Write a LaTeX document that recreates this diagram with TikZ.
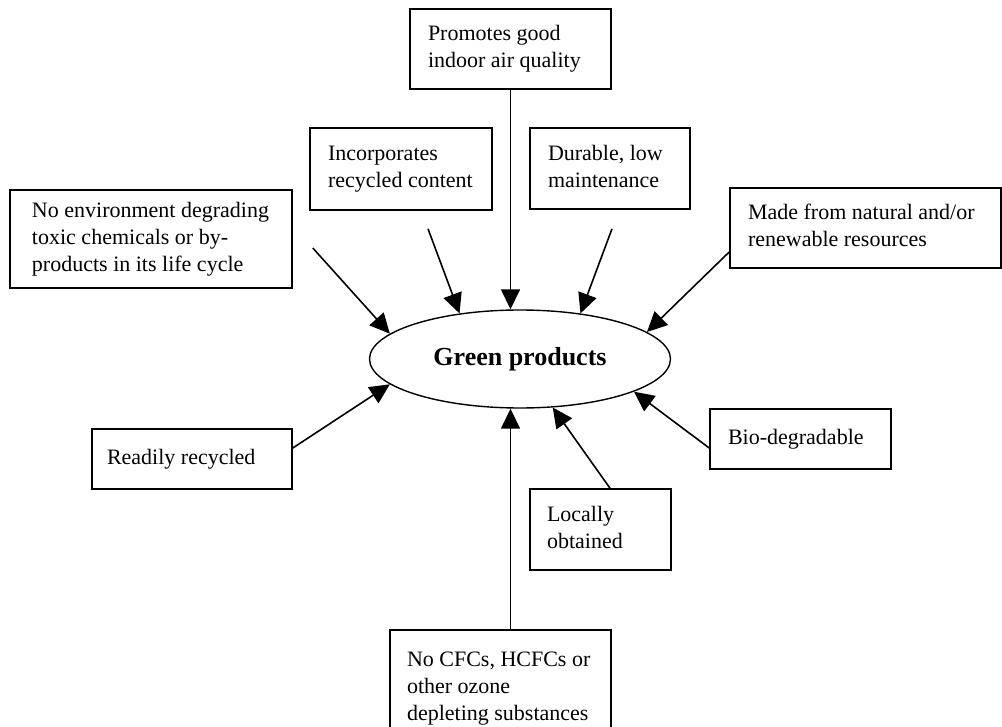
\documentclass[tikz,border=0pt]{standalone}
\usepackage{fontspec}
\setmainfont{Liberation Serif}
\usetikzlibrary{arrows.meta,shapes.geometric}

% lines of a box, set flush left in a field of fixed width
\newcommand{\boxlines}[2]{\makebox[#1][l]{\begin{tabular}{@{}l@{}}#2\end{tabular}}}

\tikzset{
  box/.style={draw, rectangle, line width=0.8pt, inner xsep=9pt,
    font=\fontsize{11}{13.5}\selectfont},
  arr/.style={line width=0.8pt, -{Triangle[length=10pt,width=9.5pt]}},
}

\begin{document}
\begin{tikzpicture}[x=0.5pt, y=-0.5pt]
  \useasboundingbox (0,0) rectangle (1002,727);

  % --- centre ---
  \node[draw, ellipse, line width=0.7pt, minimum width=150.5pt, minimum height=49pt,
    inner sep=0pt, font=\fontsize{13}{15}\selectfont\bfseries] (green) at (520,359) {Green products};

  % --- boxes above ---
  \node[box, minimum height=40pt] (prom) at (510.5,49)
    {\boxlines{82.5pt}{Promotes good\\indoor air quality}};
  \node[box, minimum height=41pt] (incorp) at (401,169)
    {\boxlines{73pt}{Incorporates\\recycled content}};
  \node[box, minimum height=40.5pt] (durable) at (610,168.5)
    {\boxlines{62pt}{Durable, low\\maintenance}};
  \node[box, inner xsep=11pt, minimum height=49pt] (noenv) at (151,239)
    {\boxlines{119pt}{No environment degrading\\toxic chemicals or by-\\products in its life cycle}};
  \node[box, minimum height=40pt] (natural) at (865.5,228)
    {\boxlines{117.5pt}{Made from natural and/or\\renewable resources}};

  % --- boxes below ---
  \node[box, inner xsep=7.5pt, minimum height=30pt] (recyc) at (192,459)
    {\boxlines{85pt}{Readily recycled}};
  \node[box, minimum height=30pt] (biodeg) at (800.5,439)
    {\boxlines{72.5pt}{Bio-degradable}};
  \node[box, inner xsep=8.5pt, minimum height=40.5pt] (local) at (600.5,529.5)
    {\boxlines{53.5pt}{Locally\\obtained}};
  \node[box, inner xsep=8.5pt, inner ysep=9pt, anchor=north] (nocfc) at (500.5,629)
    {\boxlines{93.5pt}{No CFCs, HCFCs or\\other ozone\\depleting substances}};

  % --- arrows into the ellipse ---
  \draw[arr] (prom.south) -- (prom.south |- green.north);
  \draw[arr] ([shift={(27,18)}]incorp.south) -- (green.143);
  \draw[arr] ([shift={(2,19)}]durable.south) -- (green.37);
  \draw[arr] ([shift={(20,9)}]noenv.east) -- (green.169);
  \draw[arr] ([shift={(0,24)}]natural.west) -- (green.12);
  \draw[arr] ([shift={(0,-11)}]recyc.east) -- (green.191);
  \draw[arr] ([shift={(0,9)}]biodeg.west) -- (green.344);
  \draw[arr] ([shift={(9.5,0)}]local.north) -- (green.304);
  \draw[arr] (nocfc.north -| prom.south) -- (green.south -| prom.south);

\end{tikzpicture}
\end{document}
